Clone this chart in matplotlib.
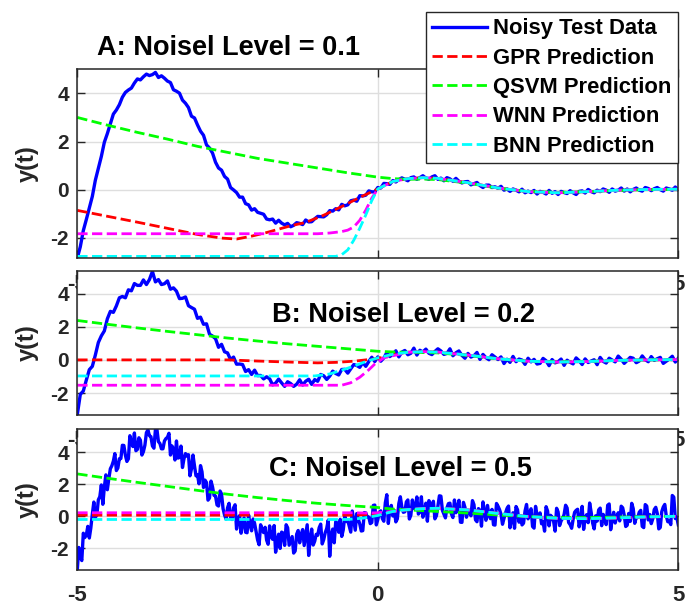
import numpy as np
import matplotlib
matplotlib.use('Agg')
import matplotlib.pyplot as plt

plt.rcParams['font.family'] = ['Liberation Sans', 'DejaVu Sans']
plt.rcParams['font.weight'] = 'bold'
plt.rcParams['axes.unicode_minus'] = False

# sample times of the noisy test data
t = np.linspace(-5, 5, 201)
t_c = np.linspace(-5, 5, 401)

# noisy test data, noise level 0.1
noisy_a = [-2.84, -2.37, -1.70, -1.24, -0.76, -0.28, 0.39, 0.89, 1.38, 1.97,
           2.33, 2.73, 3.14, 3.31, 3.53, 3.84, 4.04, 4.14, 4.22, 4.43,
           4.60, 4.56, 4.69, 4.80, 4.74, 4.78, 4.87, 4.66, 4.73, 4.63,
           4.51, 4.45, 4.15, 4.09, 4.01, 3.72, 3.59, 3.41, 3.05, 2.98,
           2.69, 2.43, 2.26, 1.86, 1.73, 1.52, 1.14, 0.90, 0.81, 0.55,
           0.44, 0.09, -0.01, -0.12, -0.31, -0.31, -0.58, -0.63, -0.85, -0.79,
           -0.94, -0.98, -1.02, -1.22, -1.25, -1.22, -1.39, -1.27, -1.39, -1.46,
           -1.40, -1.54, -1.48, -1.37, -1.40, -1.45, -1.26, -1.34, -1.33, -1.21,
           -1.11, -1.12, -1.13, -1.04, -0.87, -0.89, -0.79, -0.84, -0.61, -0.67,
           -0.63, -0.46, -0.43, -0.48, -0.25, -0.26, -0.23, -0.05, -0.09, -0.09,
           0.09, 0.07, 0.26, 0.25, 0.22, 0.38, 0.32, 0.42, 0.49, 0.43,
           0.37, 0.50, 0.53, 0.43, 0.50, 0.58, 0.48, 0.43, 0.53, 0.58,
           0.43, 0.48, 0.37, 0.50, 0.45, 0.35, 0.47, 0.35, 0.28, 0.33,
           0.34, 0.20, 0.25, 0.30, 0.17, 0.09, 0.19, 0.19, 0.09, 0.12,
           0.06, 0.14, -0.02, 0.03, -0.07, 0.03, -0.02, -0.09, 0.02, -0.13,
           -0.06, -0.12, -0.03, -0.18, -0.07, -0.11, -0.18, -0.03, -0.15, -0.08,
           -0.20, -0.07, -0.12, -0.16, -0.04, -0.13, -0.20, -0.07, -0.05, -0.14,
           0.01, -0.08, -0.13, -0.02, -0.08, 0.03, -0.02, -0.11, 0.03, -0.06,
           -0.02, 0.07, -0.06, 0.03, -0.09, 0.01, 0.07, -0.02, -0.06, 0.09,
           0.05, -0.04, 0.04, 0.09, 0.00, -0.06, 0.07, 0.03, -0.02, 0.11,
           -0.01]

# noisy test data, noise level 0.2
noisy_b = [-3.31, -2.08, -1.88, -1.22, -0.59, -0.39, 0.29, 1.05, 1.45, 1.75,
           2.48, 2.93, 2.87, 3.26, 3.75, 3.83, 3.75, 4.23, 4.17, 4.61,
           4.50, 4.50, 4.83, 4.55, 4.85, 5.34, 4.71, 4.85, 4.55, 4.60,
           4.77, 4.27, 4.35, 4.15, 3.70, 3.72, 3.80, 3.27, 3.16, 3.06,
           2.51, 2.58, 2.15, 2.18, 1.55, 1.44, 1.28, 0.76, 0.94, 0.49,
           0.42, 0.02, 0.17, -0.26, -0.25, -0.28, -0.70, -0.59, -0.88, -0.62,
           -0.95, -0.94, -1.15, -1.02, -1.14, -1.51, -1.40, -1.16, -1.39, -1.60,
           -1.32, -1.43, -1.60, -1.47, -1.20, -1.52, -1.29, -1.17, -1.48, -1.19,
           -1.29, -0.88, -0.96, -1.18, -0.98, -0.68, -0.82, -0.91, -0.58, -0.57,
           -0.80, -0.54, -0.28, -0.34, -0.45, -0.16, -0.39, -0.10, 0.16, -0.10,
           0.18, -0.08, 0.12, 0.44, 0.20, 0.34, 0.55, 0.18, 0.47, 0.57,
           0.31, 0.40, 0.71, 0.29, 0.58, 0.48, 0.65, 0.40, 0.32, 0.51,
           0.67, 0.54, 0.33, 0.39, 0.67, 0.25, 0.43, 0.54, 0.27, 0.10,
           0.39, 0.17, 0.25, 0.45, 0.03, 0.33, 0.13, 0.01, 0.31, 0.17,
           0.02, 0.18, -0.22, 0.04, -0.15, 0.21, -0.11, 0.05, -0.01, -0.27,
           0.10, -0.12, 0.03, -0.25, -0.21, 0.09, -0.05, -0.35, 0.02, -0.18,
           -0.11, 0.05, -0.33, -0.02, -0.15, -0.24, 0.12, -0.05, -0.28, 0.06,
           -0.16, -0.07, 0.01, -0.29, 0.15, -0.09, -0.19, 0.10, -0.01, -0.12,
           0.23, 0.04, -0.21, -0.03, 0.15, 0.10, -0.17, -0.07, 0.24, 0.01,
           -0.11, 0.20, -0.03, 0.07, 0.15, -0.21, -0.08, 0.05, 0.22, -0.13,
           0.10]

# noisy test data, noise level 0.5 (samples at t = -5, -4.95, ...)
noisy_c = [-3.36, -2.55, -1.06, -1.17, -1.36, 0.13, -0.06, 1.03, 1.96, 1.82,
           1.66, 2.97, 3.45, 2.86, 3.60, 4.44, 3.82, 3.59, 4.62, 5.21,
           4.18, 4.76, 4.04, 5.23, 5.04, 4.40, 5.43, 4.67, 4.22, 4.71,
           4.94, 3.83, 4.22, 4.71, 3.68, 3.05, 3.92, 3.85, 2.97, 3.15,
           2.60, 3.17, 1.80, 2.11, 1.14, 1.84, 1.26, 0.64, 1.40, 0.08,
           0.53, -0.07, 0.53, -0.80, 0.04, -0.40, -1.00, 0.08, -0.91, -0.44,
           -1.48, -0.53, -1.02, -1.49, -0.60, -1.44, -2.25, -1.12, -0.99, -1.82,
           -0.72, -1.53, -2.30, -1.12, -1.66, -0.83, -1.20, -2.45, -0.80, -1.56,
           -1.19, -0.49, -1.46, -0.76, -2.50, -0.80, -0.34, -1.00, -1.26, 0.00,
           -0.25, -0.99, -0.29, 0.17, -0.48, -0.90, 0.21, -0.05, -0.39, 0.70,
           -0.21, 0.34, -0.31, 1.35, 0.38, 0.02, -0.35, 0.80, 0.58, 0.28,
           1.02, 0.07, 0.48, 1.21, 0.26, -0.06, 0.82, 0.98, 0.41, -0.16,
           0.63, 1.26, 0.13, 0.52, 0.82, -0.08, 0.22, 1.00, -0.38, 0.56,
           0.29, 0.03, 0.73, -0.34, 0.36, 0.90, -0.25, 0.05, 0.43, -0.55,
           0.63, 0.13, -0.13, 0.49, -0.72, 0.22, 0.61, -0.37, -0.54, 0.33,
           -0.16, 0.47, -0.74, 0.06, 0.21, -0.35, 0.60, -0.60, -0.05, -0.93,
           0.27, -0.29, 0.11, 0.52, -0.52, -0.19, 0.37, -0.66, 0.62, -0.09,
           -0.40, 0.25, -0.79, -0.30, 0.51, 0.12, -0.52, 0.77, -0.19, -0.42,
           0.22, 0.63, 0.07, -0.56, -0.32, 0.48, -0.07, 0.25, -0.63, 0.73,
           -0.23, -0.46, 0.42, 0.18, -0.70, 0.58, 0.02, -0.30, 1.30, -0.14,
           -0.54]

# noisy test data, noise level 0.5 (samples at t = -4.975, -4.925, ...)
noisy_c_mid = [-1.95, -2.77, -1.33, -0.63, -0.73, 0.89, 0.07, 1.23, 0.75, 2.59,
               2.37, 3.16, 3.92, 3.02, 3.61, 4.43, 3.43, 5.04, 4.36, 4.10,
               4.91, 3.83, 4.45, 5.40, 4.98, 4.26, 5.44, 4.55, 4.22, 4.86,
               5.19, 4.40, 3.52, 3.64, 4.39, 3.60, 3.76, 2.53, 3.83, 2.53,
               2.03, 2.78, 2.26, 1.01, 2.20, 1.31, 0.71, 1.58, 0.48, -0.17,
               0.81, -0.20, 0.72, -0.13, -1.06, -0.10, -1.03, -0.52, -0.17, -0.97,
               -1.78, -0.79, -0.69, -1.75, -1.26, -0.58, -1.52, -2.01, -1.05, -0.53,
               -1.81, -1.27, -2.17, -0.89, -1.13, -1.83, -0.53, -1.39, -1.80, -1.13,
               -0.71, -1.73, -1.03, -0.24, -1.18, -1.66, -0.43, -0.19, -0.85, -0.33,
               -0.63, 0.33, -0.87, -0.18, -0.92, 0.23, -0.07, -0.46, 0.68, -0.54,
               0.25, -0.14, 0.84, -0.45, 0.68, 0.36, -0.16, 1.22, 0.25, 0.90,
               -0.17, 1.02, 0.58, 0.14, 1.22, 0.32, -0.31, 0.77, 0.94, 0.03,
               1.28, 0.37, -0.10, 0.79, 0.14, 1.02, 0.55, -0.37, 0.87, -0.06,
               0.28, 0.98, -0.22, 0.48, -0.62, 0.26, 0.68, -0.15, -0.53, 0.80,
               0.42, -0.50, 0.20, 0.64, -0.19, -0.75, 0.41, 0.04, -0.43, 0.74,
               0.19, -0.64, 0.62, -0.02, -0.47, -0.93, 0.33, 0.06, -0.31, 0.50,
               -0.58, -0.13, 0.69, -0.39, -0.75, 0.25, 0.44, -0.19, -0.82, 0.10,
               0.83, -0.43, 0.03, 0.40, -0.59, -0.22, 0.69, -0.84, 0.25, -0.02,
               -0.29, 0.53, -0.64, 0.18, 0.81, -0.44, -0.08, 0.37, -0.71, 0.64,
               0.11, -0.16, 0.56, -0.79, 0.29, 0.74, -0.34, -0.52, 1.20, -0.07]

# model predictions, t > 0 part (all models track the signal there)
tail_x = [0.25, 0.5, 0.75, 1.0, 1.5, 2.0, 2.5, 3.0, 3.5, 4.0, 4.5, 5.0]
tail_a = [0.34, 0.46, 0.50, 0.47, 0.29, 0.07, -0.08, -0.13, -0.08, -0.02, 0.01, 0.02]
tail_b = [0.34, 0.46, 0.50, 0.47, 0.29, 0.07, -0.08, -0.13, -0.10, -0.03, 0.00, 0.02]
tail_c = [0.30, 0.42, 0.48, 0.50, 0.40, 0.18, -0.02, -0.13, -0.15, -0.10, -0.04, 0.00]
qsvm_tail_a = [0.46, 0.43, 0.44, 0.42, 0.27, 0.06, -0.07, -0.11, -0.08, -0.03, 0.00, 0.01]
qsvm_tail_b = [0.48, 0.46, 0.45, 0.42, 0.27, 0.06, -0.08, -0.12, -0.09, -0.03, 0.00, 0.02]
qsvm_tail_c = [0.45, 0.40, 0.35, 0.30, 0.20, 0.08, -0.02, -0.08, -0.08, -0.05, -0.02, 0.00]

# panel A predictions, t <= 0
gpr_a_x = [-5, -4, -3, -2.6, -2.35, -2.1, -1.85, -1.65, -1.45, -1.2, -0.9, -0.6, -0.3, 0]
gpr_a_y = [-0.86, -1.35, -1.86, -2.01, -2.05, -1.93, -1.78, -1.64, -1.50, -1.36, -1.06, -0.70, -0.32, 0.03]
qsvm_a_x = [-5, -4.5, -4, -3.5, -3, -2.5, -2, -1.5, -1, -0.5, 0]
qsvm_a_y = [3.0, 2.68, 2.38, 2.1, 1.8, 1.55, 1.3, 1.1, 0.9, 0.7, 0.52]
wnn_a_x = [-5, -1.0, -0.8, -0.6, -0.5, -0.4, -0.3, -0.2, -0.1, 0]
wnn_a_y = [-1.83, -1.83, -1.80, -1.74, -1.68, -1.55, -1.27, -0.85, -0.35, 0.03]
bnn_a_x = [-5, -0.7, -0.6, -0.5, -0.4, -0.3, -0.2, -0.1, 0]
bnn_a_y = [-2.77, -2.77, -2.70, -2.50, -2.10, -1.60, -1.05, -0.45, 0.03]

# panel B predictions, t <= 0
gpr_b_x = [-5, -2.5, -2.0, -1.5, -1.0, -0.7, -0.4, -0.2, 0]
gpr_b_y = [0.0, 0.0, -0.07, -0.13, -0.18, -0.15, -0.08, 0.0, 0.08]
qsvm_b_x = [-5, -4.5, -4, -3.5, -3, -2.5, -2, -1.5, -1, -0.5, 0]
qsvm_b_y = [2.38, 2.15, 1.93, 1.72, 1.52, 1.32, 1.14, 0.97, 0.82, 0.67, 0.52]
wnn_b_x = [-5, -0.6, -0.45, -0.3, -0.15, -0.05, 0.1]
wnn_b_y = [-1.53, -1.53, -1.38, -1.05, -0.6, -0.25, 0.12]
bnn_b_x = [-5, -1.05, -0.8, -0.6, -0.4, -0.2, 0]
bnn_b_y = [-0.97, -0.97, -0.85, -0.62, -0.38, -0.1, 0.12]

# panel C predictions, t <= 0
gpr_c_x = [-5, -0.4, -0.2, 0]
gpr_c_y = [0.07, 0.07, 0.10, 0.18]
qsvm_c_x = [-5, -4.5, -4, -3.5, -3, -2.5, -2, -1.5, -1, -0.5, 0]
qsvm_c_y = [2.65, 2.38, 2.12, 1.87, 1.62, 1.38, 1.17, 0.98, 0.81, 0.67, 0.55]
wnn_c_x = [-5, -0.4, -0.2, 0]
wnn_c_y = [0.22, 0.22, 0.20, 0.22]
bnn_c_x = [-5, -0.5, -0.25, 0]
bnn_c_y = [-0.20, -0.20, -0.12, 0.05]

labels = ['Noisy Test Data', 'GPR Prediction', 'QSVM Prediction',
          'WNN Prediction', 'BNN Prediction']
colors = ['#0000ff', '#ff0000', '#00ff00', '#ff00ff', '#00ffff']

# panel C: merge the two sample sets in time order
y_c = np.empty(401)
y_c[0::2] = noisy_c
y_c[1::2] = noisy_c_mid

fig = plt.figure(figsize=(6.86, 6.05), dpi=100)

W, H = 686, 605
def rect(l, t, r, b):
    return [l / W, 1 - b / H, (r - l) / W, (b - t) / H]

panels = [
    dict(box=rect(77.3, 69.3, 678.3, 258.3), t=t, y=noisy_a, ylim=(-2.85, 5.0),
         preds=[(gpr_a_x + tail_x, gpr_a_y + tail_a),
                (qsvm_a_x + tail_x, qsvm_a_y + qsvm_tail_a),
                (wnn_a_x + tail_x, wnn_a_y + tail_a),
                (bnn_a_x + tail_x, bnn_a_y + tail_a)],
         title='A: Noisel Level = 0.1', tpos=(0.2508, 1.0757)),
    dict(box=rect(77.3, 271.3, 678.3, 414.7), t=t, y=noisy_b, ylim=(-3.31, 5.35),
         preds=[(gpr_b_x + tail_x, gpr_b_y + tail_b),
                (qsvm_b_x + tail_x, qsvm_b_y + qsvm_tail_b),
                (wnn_b_x + tail_x[1:], wnn_b_y + tail_b[1:]),
                (bnn_b_x + tail_x, bnn_b_y + tail_b)],
         title='B: Noisel Level = 0.2', tpos=(0.5428, 0.6464)),
    dict(box=rect(77.3, 429.3, 678.3, 570.0), t=t_c, y=y_c, ylim=(-3.36, 5.44),
         preds=[(gpr_c_x + tail_x, gpr_c_y + tail_c),
                (qsvm_c_x + tail_x, qsvm_c_y + qsvm_tail_c),
                (wnn_c_x + tail_x, wnn_c_y + tail_c),
                (bnn_c_x + tail_x, bnn_c_y + tail_c)],
         title='C: Noisel Level = 0.5', tpos=(0.5383, 0.668)),
]

handles = None
for p in panels:
    ax = fig.add_axes(p['box'])
    lines = [ax.plot(p['t'], p['y'], color=colors[0], lw=2.4)[0]]
    for (px, py), c in zip(p['preds'], colors[1:]):
        lines.append(ax.plot(px, py, '--', color=c, lw=2.0)[0])
    if handles is None:
        handles = lines
    ax.set_xlim(-5, 5)
    ax.set_ylim(*p['ylim'])
    ax.set_xticks([-5, 0, 5])
    ax.set_yticks([-2, 0, 2, 4])
    ax.set_axisbelow(True)
    ax.grid(True, color='#dedede', lw=1.0)
    ax.tick_params(direction='in', length=5.5, width=1.0, top=True, right=True,
                   colors='#262626')
    ax.tick_params(axis='x', labelsize=16, pad=11)
    ax.tick_params(axis='y', labelsize=15, pad=6)
    for s in ax.spines.values():
        s.set_linewidth(1.1)
        s.set_color('#262626')
    ax.set_ylabel('y(t)', fontsize=17, fontweight='bold', color='#262626')
    ax.yaxis.set_label_coords(-0.064, 0.5)
    ax.text(p['tpos'][0], p['tpos'][1], p['title'], transform=ax.transAxes,
            ha='center', va='baseline', fontsize=19.5, fontweight='bold',
            color='black')

leg = fig.legend(handles, labels, loc='upper right',
                 bbox_to_anchor=(677.7 / W, 1 - 11.7 / H), borderaxespad=0,
                 fontsize=15.8, fancybox=False, framealpha=1, edgecolor='#262626',
                 handlelength=2.5, handletextpad=0.25, labelspacing=0.38,
                 borderpad=0.3)
leg.get_frame().set_linewidth(1.0)
for txt in leg.get_texts():
    txt.set_fontweight('bold')

fig.savefig('out.png', dpi=100)
